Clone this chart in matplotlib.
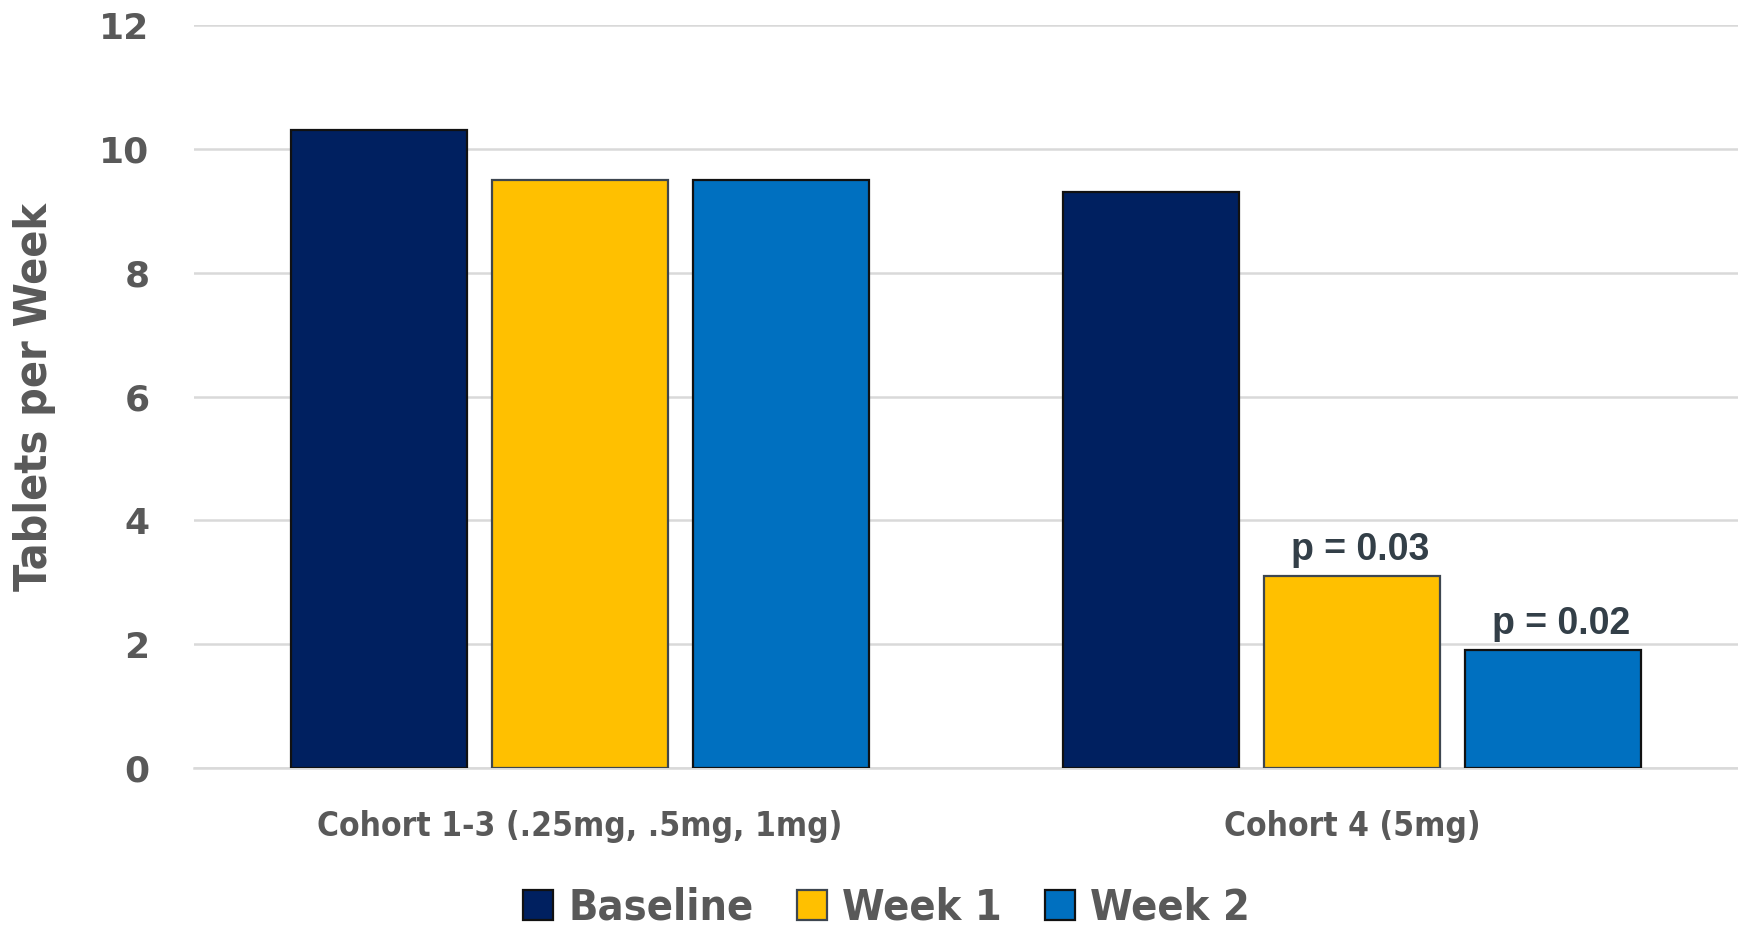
import matplotlib
matplotlib.use("Agg")
import matplotlib.pyplot as plt
import numpy as np
from matplotlib.patches import Patch

categories = ["Cohort 1-3 (.25mg, .5mg, 1mg)", "Cohort 4 (5mg)"]
series_names = ["Baseline", "Week 1", "Week 2"]
baseline = [10.3, 9.3]
week1 = [9.5, 3.1]
week2 = [9.5, 1.9]
p_labels = {("Week 1", 1): "p = 0.03", ("Week 2", 1): "p = 0.02"}
y_ticks = [0, 2, 4, 6, 8, 10, 12]

colors = ["#002060", "#FFC000", "#0070C0"]
edges = ["#111111", "#3d4650", "#111111"]
grey = "#595959"
narrow = ["Liberation Sans Narrow", "DejaVu Sans"]

fig = plt.figure(figsize=(17.38, 9.26), dpi=100)
ax = fig.add_axes([0.1116, 0.1706, 0.8884, 0.8024])

x = np.arange(len(categories))
width = 0.228
step = 0.2606
values = [baseline, week1, week2]
for i, (name, vals) in enumerate(zip(series_names, values)):
    pos = x + (i - 1) * step
    bars = ax.bar(pos, vals, width, color=colors[i], edgecolor=edges[i],
                  linewidth=1.6, zorder=3, label=name)
    for j, b in enumerate(bars):
        lab = p_labels.get((name, j))
        if lab:
            ax.annotate(lab, (b.get_x() + b.get_width() / 2, b.get_height()),
                        xytext=(6, 6), textcoords="offset points",
                        ha="center", va="bottom", fontsize=27,
                        fontweight="bold", color="#333F48",
                        family="Liberation Sans")

ax.set_xlim(-0.5, 1.5)
ax.set_ylim(0, 12)
ax.set_yticks(y_ticks)
ax.set_yticklabels([str(t) for t in y_ticks], fontsize=26, fontweight="bold",
                   color=grey, family="DejaVu Sans")
ax.set_xticks(x)
ax.set_xticklabels(categories, fontsize=24, fontweight="bold", color=grey,
                   family=narrow, fontstretch="condensed")
ax.tick_params(axis="both", length=0)
ax.tick_params(axis="y", pad=32)
ax.tick_params(axis="x", pad=30)
ax.grid(axis="y", color="#D9D9D9", linewidth=1.8, zorder=0)
for s in ["top", "right", "left"]:
    ax.spines[s].set_visible(False)
ax.spines["bottom"].set_color("#D9D9D9")
ax.spines["bottom"].set_linewidth(1.8)

ax.set_ylabel("Tablets per Week", fontsize=32, fontweight="bold", color=grey,
              family=narrow, fontstretch="condensed", labelpad=31)

handles = [Patch(facecolor=c, edgecolor=e, linewidth=1.6) for c, e in zip(colors, edges)]
fig.legend(handles, series_names, loc="lower center", bbox_to_anchor=(0.51, -0.045),
           ncol=3, frameon=False, handlelength=0.7, handleheight=0.7,
           handletextpad=0.35, columnspacing=1.0,
           prop={"family": narrow, "weight": "bold", "size": 31, "stretch": "condensed"},
           labelcolor=grey)

fig.savefig("out.png", dpi=100)
